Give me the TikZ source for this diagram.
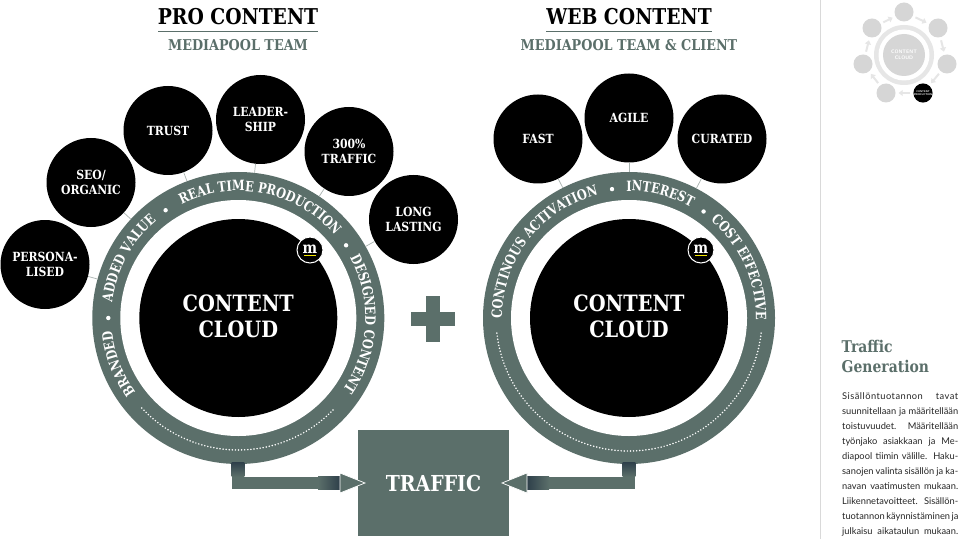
\documentclass[tikz,border=0pt]{standalone}
\usepackage{fontspec}
\usetikzlibrary{calc,decorations.text,arrows.meta,shapes.geometric}
\newfontfamily\slab[FakeStretch=0.86]{DejaVu Serif}
\newfontfamily\ringf[FakeStretch=0.8]{DejaVu Serif}
\newfontfamily\bodyf{Lato}
\definecolor{sage}{HTML}{5B6F6A}
\definecolor{deep}{HTML}{2E3F4A}
\definecolor{spoke}{HTML}{A9B3B0}
\definecolor{mlight}{HTML}{D6D6D6}
\definecolor{mring}{HTML}{E6E6E6}
\definecolor{myellow}{HTML}{F2E500}
\newcommand\jl[1]{\makebox[116pt][s]{#1}\\}
\newcommand\jls[1]{\makebox[116pt][s]{\addfontfeature{LetterSpace=5}#1}\\}
\newcommand\ringtext[5]{%
 \path[decorate,decoration={text along path,text align=center,
   text={|\ringf\bfseries\fontsize{14.2}{14.2}\selectfont\color{white}|#5}}]
   ($(#1)+(#2:#4pt)$) arc[start angle=#2,end angle=#3,radius=#4pt];}
\tikzset{
 bubble/.style={circle,fill=black,text=white,minimum size=89pt,inner sep=0pt,align=center,
   font=\slab\bfseries\fontsize{12.6}{14.7}\selectfont},
 spokeline/.style={draw=spoke,line width=0.7pt},
 ringouter/.style={circle,fill=sage,minimum size=292pt,inner sep=0pt},
 ringinner/.style={circle,fill=white,minimum size=236pt,inner sep=0pt},
 core/.style={circle,fill=black,text=white,minimum size=198pt,inner sep=0pt,align=center,
   font=\slab\bfseries\fontsize{22.5}{26}\selectfont},
 badge/.style={circle,fill=black,draw=white,line width=1pt,text=white,minimum size=26pt,inner sep=0pt,
   font=\slab\bfseries\fontsize{16}{16}\selectfont},
 dotarc/.style={draw=white,line width=1.7pt,line cap=round,dash pattern=on 0pt off 3.1pt},
 flow/.style={draw=sage,line width=12.6pt},
 headfill/.style={fill=sage,draw=white,line width=0.7pt},
 title/.style={font=\slab\bfseries\fontsize{21.8}{24}\selectfont,text=black},
 subtitle/.style={font=\slab\bfseries\fontsize{14.9}{16}\selectfont,text=sage},
 mini/.style={circle,fill=mlight,minimum size=19pt,inner sep=0pt},
 miniarrow/.style={draw=mring,line width=2pt,-{Triangle[length=4pt,width=6pt]},shorten >=3pt,shorten <=3pt},
 minilabel/.style={text=white,align=center,font=\sffamily\bfseries\fontsize{2.6}{3.2}\selectfont},
}
\begin{document}
\begin{tikzpicture}[x=1pt,y=1pt]
\useasboundingbox (0,0) rectangle (960,539);
\fill[white] (0,0) rectangle (960,539);

% titles
\node[title] (t1) at (238,522) {PRO CONTENT};
\coordinate (t1a) at (158,508); \coordinate (t1b) at (318,508);
\draw[sage,line width=0.8pt] (t1a) -- (t1b);
\node[subtitle] (s1) at (238,494) {MEDIAPOOL TEAM};
\node[title] (t2) at (629,522) {WEB CONTENT};
\coordinate (t2a) at (546,508); \coordinate (t2b) at (712,508);
\draw[sage,line width=0.8pt] (t2a) -- (t2b);
\node[subtitle] (s2) at (629,494) {MEDIAPOOL TEAM \& CLIENT};

% arrows below rings (under the rings)
\coordinate (ls) at (238,85); \coordinate (le) at (340,56);
\coordinate (rs) at (629,85); \coordinate (re) at (527,56);
\draw[flow] (ls) |- (le);
\draw[flow] (rs) |- (re);

% rings
\node[ringouter] (ringL) at (238.3,221) {};
\node[ringinner] (innerL) at (238.3,221) {};
\node[core] (coreL) at (238.3,221) {\raisebox{-3pt}[0pt][0pt]{\parbox{150pt}{\centering CONTENT\\CLOUD}}};
\node[ringouter] (ringR) at (629,221) {};
\node[ringinner] (innerR) at (629,221) {};
\node[core] (coreR) at (629,221) {\raisebox{-3pt}[0pt][0pt]{\parbox{150pt}{\centering CONTENT\\CLOUD}}};

% bubbles
\node[bubble] (b1) at (45,274.5) {PERSONA-\\LISED};
\node[bubble] (b2) at (91,356.5) {SEO/\\ORGANIC};
\node[bubble] (b3) at (168,408.5) {TRUST};
\node[bubble] (b4) at (260.5,419.5) {LEADER-\\SHIP};
\node[bubble] (b5) at (349,387.5) {300\%\\TRAFFIC};
\node[bubble] (b6) at (413.5,319.5) {LONG\\LASTING};
\node[bubble] (b7) at (538,400) {FAST};
\node[bubble] (b8) at (629,421) {AGILE};
\node[bubble] (b9) at (722,400) {CURATED};
\foreach \b in {b1,b2,b3,b4,b5,b6} \draw[spokeline] (ringL) -- (\b);
\foreach \b in {b7,b8,b9} \draw[spokeline] (ringR) -- (\b);

% ring texts left
\ringtext{ringL}{216}{186}{127}{BRANDED}
\ringtext{ringL}{174}{129}{127}{ADDED VALUE}
\ringtext{ringL}{118}{39}{127}{REAL TIME PRODUCTION}
\ringtext{ringL}{29}{-35}{127}{DESIGNED CONTENT}
\fill[white] ($(ringL)+(180:130pt)$) circle (2.2pt);
\fill[white] ($(ringL)+(124:130pt)$) circle (2.2pt);
\fill[white] ($(ringL)+(34:130pt)$) circle (2.2pt);
\draw[dotarc] ($(ringL)+(223:132pt)$) arc[start angle=223,end angle=317,radius=132pt];

% ring texts right
\ringtext{ringR}{181}{103}{127}{CONTINOUS ACTIVATION}
\ringtext{ringR}{91}{61}{127}{INTEREST}
\ringtext{ringR}{50}{-1}{127}{COST EFFECTIVE}
\fill[white] ($(ringR)+(97.5:130pt)$) circle (2.2pt);
\fill[white] ($(ringR)+(55:130pt)$) circle (2.2pt);
\draw[dotarc] ($(ringR)+(186.5:133pt)$) arc[start angle=186.5,end angle=353.5,radius=133pt];

% badges
\node[badge] (mL) at (310,289) {\raisebox{1.5pt}{m}};
\draw[myellow,line width=1.3pt] ($(mL)+(-6,-5.6)$) -- ($(mL)+(6,-5.6)$);
\node[badge] (mR) at (701,289) {\raisebox{1.5pt}{m}};
\draw[myellow,line width=1.3pt] ($(mR)+(-6,-5.6)$) -- ($(mR)+(6,-5.6)$);

% plus
\fill[sage] (411,213) rectangle (455,227);
\fill[sage] (426,197) rectangle (440,243);

% traffic box
\node[rectangle,fill=sage,text=white,minimum width=151pt,minimum height=106pt,inner sep=0pt,
  font=\slab\bfseries\fontsize{22}{26}\selectfont] (traffic) at (433.5,56) {TRAFFIC};

% arrow gradients and heads
\shade[left color=sage,right color=deep] (318,49.7) rectangle (340,62.3);
\shade[top color=deep,bottom color=sage] (231.7,77) rectangle (244.3,62.3);
\shade[right color=sage,left color=deep] (527,49.7) rectangle (549,62.3);
\shade[top color=deep,bottom color=sage] (622.7,77) rectangle (635.3,62.3);
\path[headfill] (340,66) -- (365,56) -- (340,46) -- cycle;
\path[headfill] (527,66) -- (502,56) -- (527,46) -- cycle;

% side panel
\coordinate (va) at (820,539); \coordinate (vb) at (820,0);
\draw[black!15,line width=0.8pt] (va) -- (vb);
\node[anchor=north west,inner sep=0pt,align=left,text=sage,
  font=\slab\bfseries\fontsize{16.2}{20}\selectfont] (head) at (841.5,199) {Traffic\\Generation};
\node[anchor=north west,inner sep=0pt,align=left,
  font=\bodyf\fontsize{9.3}{15}\selectfont,text=black!85] (body) at (842,147) {%
 \jls{Sisällöntuotannon tavat}
 \jl{suunnitellaan ja määritellään}
 \jl{toistuvuudet. Määritellään}
 \jl{työnjako asiakkaan ja Me-}
 \jl{diapool tiimin välille. Haku-}
 \jl{sanojen valinta sisällön ja ka-}
 \jl{navan vaatimusten mukaan.}
 \jl{Liikennetavoitteet. Sisällön-}
 \jl{tuotannon käynnistäminen ja}
 \makebox[116pt][s]{julkaisu aikataulun mukaan.}};

% mini diagram
\node[circle,fill=mring,minimum size=60pt,inner sep=0pt] (mo) at (904,484) {};
\node[circle,fill=white,minimum size=51pt,inner sep=0pt] (mi) at (904,484) {};
\node[circle,fill=mlight,minimum size=42pt,inner sep=0pt,text=white,align=center,
  font=\sffamily\bfseries\fontsize{5}{6}\selectfont] (mc) at (904,484) {CONTENT\\CLOUD};
\node[mini] (m1) at (904,527) {};
\node[mini] (m2) at (938,511) {};
\node[mini] (m3) at (947,475) {};
\node[mini,fill=black,minilabel] (m4) at (923,446) {CONTENT\\PRODUCTION};
\node[mini] (m5) at (886,446) {};
\node[mini] (m6) at (863,475) {};
\node[mini] (m7) at (872,511) {};
\draw[miniarrow] (m1) -- (m2);
\draw[miniarrow] (m2) -- (m3);
\draw[miniarrow] (m3) -- (m4);
\draw[miniarrow] (m4) -- (m5);
\draw[miniarrow] (m5) -- (m6);
\draw[miniarrow] (m6) -- (m7);
\draw[miniarrow] (m7) -- (m1);
\end{tikzpicture}
\end{document}
